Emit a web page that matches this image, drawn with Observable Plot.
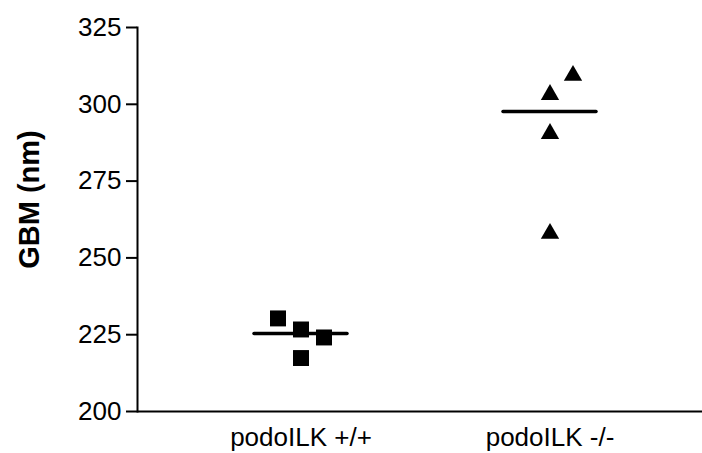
<!DOCTYPE html>
<html><head><meta charset="utf-8">
<script src="https://cdn.jsdelivr.net/npm/d3@7"></script>
<script src="https://cdn.jsdelivr.net/npm/@observablehq/plot@0.6"></script>
<style>body{margin:0;background:#fff}</style>
</head><body><div id="chart"></div>
<script>
const groups = ["podoILK +/+", "podoILK -/-"];
const wildType = [230.3, 226.7, 224.1, 217.4];
const knockout = [310.2, 304.0, 291.3, 258.8];
const wildTypeColumn = [-1, 0, 1, 0];
const knockoutColumn = [1, 0, 0, 0];
const yTicks = [200, 225, 250, 275, 300, 325];
const yLabel = "GBM (nm)";

const rows = [
  ...wildType.map((v, i) => ({group: groups[0], value: v, col: wildTypeColumn[i], symbol: "square"})),
  ...knockout.map((v, i) => ({group: groups[1], value: v, col: knockoutColumn[i], symbol: "triangle"}))
];

const dotMarks = [];
for (const c of [-1, 0, 1]) {
  dotMarks.push(Plot.dot(rows.filter(d => d.col === c && d.symbol === "square"),
    {x: "group", y: "value", symbol: "square", r: 9, fill: "black", dx: c * 23}));
  dotMarks.push(Plot.dot(rows.filter(d => d.col === c && d.symbol === "triangle"),
    {x: "group", y: "value", symbol: "triangle", r: 6.8, fill: "black", dx: c * 23, dy: 2.6}));
}

const chart = Plot.plot({
  width: 702,
  height: 453,
  marginLeft: 137,
  marginRight: 0,
  marginTop: 27,
  marginBottom: 42,
  style: {fontFamily: "'Liberation Sans', Arial, sans-serif", fontSize: "26px", color: "black", background: "white"},
  x: {type: "band", domain: groups, range: [175.5, 673.5], padding: 0},
  y: {domain: [200, 325]},
  marks: [
    Plot.axisY(yTicks, {tickSize: 11, tickPadding: 5, strokeWidth: 2, fontSize: 26, label: null}),
    Plot.axisX({tickSize: 0, tickPadding: 16, fontSize: 26, label: null}),
    Plot.frame({anchor: "left", strokeWidth: 2}),
    Plot.ruleY([200], {strokeWidth: 2}),
    Plot.tickY(rows, Plot.groupX({y: "median"}, {x: "group", y: "value", strokeWidth: 3.5, strokeLinecap: "round", insetLeft: 78, insetRight: 78})),
    ...dotMarks,
    Plot.text([yLabel], {frameAnchor: "left", textAnchor: "middle", lineAnchor: "middle", rotate: -90, dx: -108, dy: -20, fontSize: 29, fontWeight: "bold"})
  ]
});
document.getElementById("chart").appendChild(chart);
</script>
</body></html>
